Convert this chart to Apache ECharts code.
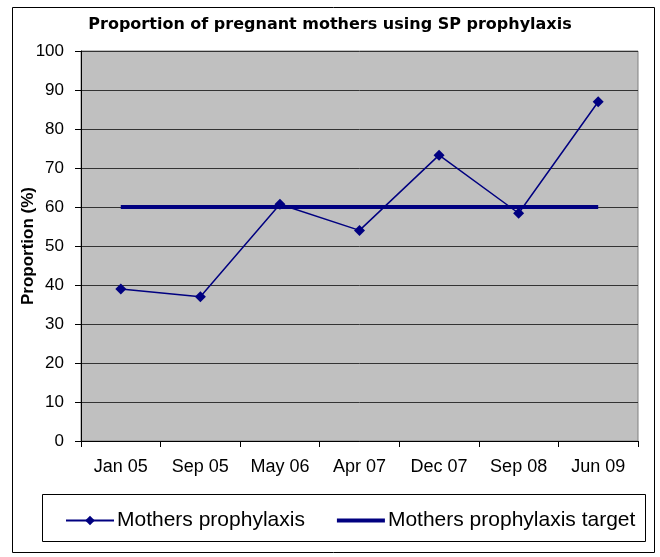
<!DOCTYPE html>
<html lang="en">
    <head>
        <meta charset="utf-8">
        <title>SP prophylaxis</title>
        <script src="https://cdn.jsdelivr.net/npm/echarts@6/dist/echarts.min.js"></script>
        <style>
            html, body { margin: 0; padding: 0; background: #fff; }
            #chart { width: 660px; height: 557px; }
        </style>
    </head>
    <body>
        <div id="chart"></div>
        <script type="text/javascript">
            // categories and values
            var months = ['Jan 05', 'Sep 05', 'May 06', 'Apr 07', 'Dec 07', 'Sep 08', 'Jun 09'];
            var prophylaxis = [39, 37, 60.7, 54, 73.3, 58.4, 87];
            var target = [60, 60, 60, 60, 60, 60, 60];
            var yTicks = [0, 100, 10]; // min, max, step

            var font = 'Arial, "Liberation Sans", sans-serif';
            var navy = '#000080';

            var myChart = echarts.init(document.getElementById('chart'));

            var option = {
                animation: false,
                backgroundColor: '#fff',
                title: {
                    text: 'Proportion of pregnant mothers using SP prophylaxis',
                    left: 'center',
                    top: 12,
                    textStyle: {
                        fontFamily: '"DejaVu Sans", sans-serif',
                        fontSize: 16,
                        fontWeight: 'bold',
                        color: '#000'
                    }
                },
                // outer frame and legend box
                graphic: [
                    {
                        type: 'rect',
                        shape: { x: 12.5, y: 7.5, width: 642, height: 545 },
                        style: { fill: 'none', stroke: '#000', lineWidth: 1 },
                        silent: true
                    },
                    {
                        type: 'rect',
                        shape: { x: 42.5, y: 494.5, width: 603, height: 47 },
                        style: { fill: '#fff', stroke: '#000', lineWidth: 1 },
                        silent: true,
                        z: -1
                    }
                ],
                legend: {
                    left: 60,
                    top: 505,
                    itemGap: 30,
                    itemWidth: 48,
                    itemHeight: 12,
                    textStyle: {
                        fontFamily: font,
                        fontSize: 21,
                        color: '#000',
                        padding: [0, 0, 0, -2]
                    },
                    data: [
                        { name: 'Mothers prophylaxis' },
                        {
                            name: 'Mothers prophylaxis target',
                            itemStyle: { color: 'rgba(0,0,0,0)', borderWidth: 0 },
                            lineStyle: { color: navy, width: 4 }
                        }
                    ]
                },
                grid: {
                    left: 81,
                    right: 22,
                    top: 51,
                    bottom: 116,
                    show: true,
                    backgroundColor: '#c0c0c0',
                    borderColor: '#808080',
                    borderWidth: 1
                },
                xAxis: {
                    type: 'category',
                    data: months,
                    boundaryGap: true,
                    axisLine: { lineStyle: { color: '#000', width: 1 } },
                    axisTick: { show: true, length: 6, lineStyle: { color: '#000' } },
                    axisLabel: {
                        fontFamily: font,
                        fontSize: 18,
                        color: '#000',
                        margin: 17,
                        interval: 0
                    },
                    splitLine: { show: false }
                },
                yAxis: {
                    type: 'value',
                    min: yTicks[0],
                    max: yTicks[1],
                    interval: yTicks[2],
                    name: 'Proportion (%)',
                    nameLocation: 'middle',
                    nameGap: 44,
                    nameMoveOverlap: false,
                    nameTextStyle: {
                        fontFamily: font,
                        fontSize: 17,
                        fontWeight: 'bold',
                        color: '#000'
                    },
                    axisLine: { show: true, lineStyle: { color: '#000', width: 1 } },
                    axisTick: { show: true, length: 6, lineStyle: { color: '#000' } },
                    axisLabel: {
                        fontFamily: font,
                        fontSize: 17,
                        color: '#000',
                        margin: 17
                    },
                    splitLine: { show: true, lineStyle: { color: '#333', width: 1 } }
                },
                series: [
                    {
                        name: 'Mothers prophylaxis',
                        type: 'line',
                        data: prophylaxis,
                        symbol: 'diamond',
                        symbolSize: 11,
                        itemStyle: { color: navy },
                        lineStyle: { color: navy, width: 1.5 },
                        z: 3
                    },
                    {
                        name: 'Mothers prophylaxis target',
                        type: 'line',
                        data: target,
                        symbol: 'none',
                        itemStyle: { color: navy },
                        lineStyle: { color: navy, width: 4 },
                        z: 2
                    }
                ]
            };
            myChart.setOption(option);
        </script>
    </body>
</html>
